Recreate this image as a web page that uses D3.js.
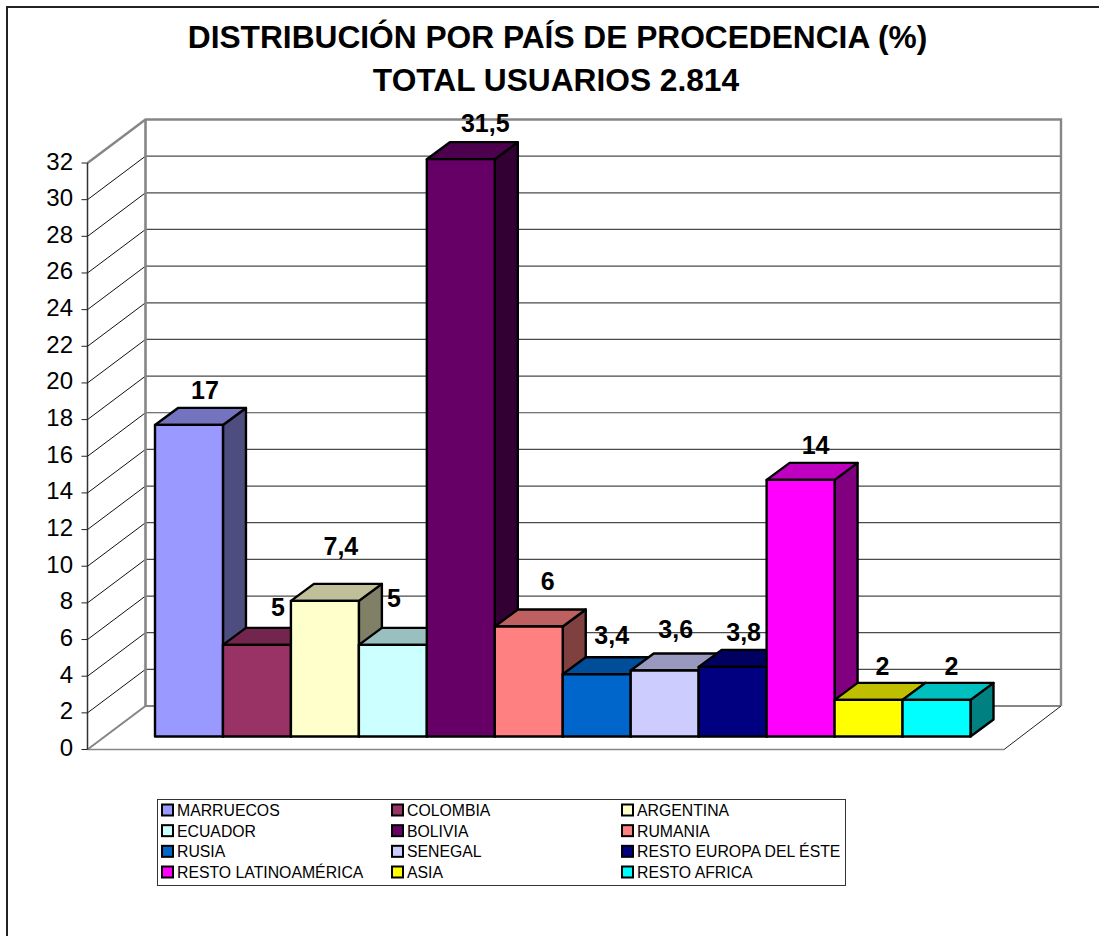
<!DOCTYPE html>
<html><head><meta charset="utf-8">
<script src="https://cdn.jsdelivr.net/npm/d3@7/dist/d3.min.js"></script>
<style>html,body{margin:0;padding:0;background:#fff}svg{display:block}text{font-family:"Liberation Sans",Arial,sans-serif}</style>
</head><body><svg id="c" width="1099" height="936"></svg>
<script>
const categories=["MARRUECOS","COLOMBIA","ARGENTINA","ECUADOR","BOLIVIA","RUMANIA","RUSIA","SENEGAL","RESTO EUROPA DEL ÉSTE","RESTO LATINOAMÉRICA","ASIA","RESTO AFRICA"];
const values=[17,5,7.4,5,31.5,6,3.4,3.6,3.8,14,2,2];
const valueLabels=["17","5","7,4","5","31,5","6","3,4","3,6","3,8","14","2","2"];
const colors=["#9999FF","#993366","#FFFFCC","#CCFFFF","#660066","#FF8080","#0066CC","#CCCCFF","#000080","#FF00FF","#FFFF00","#00FFFF"];
const ticks=d3.range(0,33,2);
const titleLines=["DISTRIBUCIÓN POR PAÍS DE PROCEDENCIA (%)","TOTAL USUARIOS 2.814"];
const labelNudgeX=[16,21,16,1,24.5,19,15,11,11,15,14,15];
const labelNudgeY=[-35,-38,-55,-47,-36,-46,-39,-42,-35,-35,-34,-34];

const svg=d3.select("#c");
svg.append("path").attr("d","M7,936V7H1099").attr("fill","none").attr("stroke","#222").attr("stroke-width",2);
svg.selectAll("text.t").data(titleLines).join("text").attr("class","t")
 .attr("x",(d,i)=>i?556:557.5).attr("y",(d,i)=>48+i*43).attr("text-anchor","middle")
 .attr("font-size",31.7).attr("font-weight","bold").attr("fill","#000").text(d=>d);

const yFront=d3.scaleLinear().domain([0,32]).range([749.5,163]);
const yWall=d3.scaleLinear().domain([0,32]).range([706,119.5]);
const yBar=d3.scaleLinear().domain([0,32]).range([736.5,150]);
const x=d3.scaleBand().domain(categories).range([155,970.5]);
const xF=87.5,xW=145.5,xR=1061,xFR=1004;
const depthX=23,depthY=17;

// floor
svg.append("path").attr("d",`M${xF},${yFront(0)}L${xW},${yWall(0)}H${xR}`).attr("fill","none").attr("stroke","#868686").attr("stroke-width",2);
svg.append("path").attr("d",`M${xF},${yFront(0)}H${xFR}`).attr("fill","none").attr("stroke","#868686").attr("stroke-width",1.6);
svg.append("path").attr("d",`M${xFR},${yFront(0)}L${xR},${yWall(0)}`).attr("fill","none").attr("stroke","#222").attr("stroke-width",1);
// gridlines on side and back walls
const inner=ticks.filter(t=>t>0&&t<32);
svg.selectAll("line.s").data(inner).join("line").attr("class","s")
 .attr("x1",xF).attr("x2",xW).attr("y1",yFront).attr("y2",yWall).attr("stroke","#111").attr("stroke-width",1);
svg.selectAll("line.b").data(inner).join("line").attr("class","b")
 .attr("x1",xW).attr("x2",xR).attr("y1",yWall).attr("y2",yWall).attr("stroke","#4a4a4a").attr("stroke-width",1.2);
// wall frame
svg.append("path").attr("d",`M${xF},${yFront(32)}L${xW},${yWall(32)}H${xR}V${yWall(0)}`).attr("fill","none").attr("stroke","#868686").attr("stroke-width",2.4);
svg.append("line").attr("x1",xW).attr("x2",xW).attr("y1",yWall(32)).attr("y2",yWall(0)).attr("stroke","#868686").attr("stroke-width",2.6);
// front axis
svg.append("line").attr("x1",xF).attr("x2",xF).attr("y1",yFront(32)).attr("y2",yFront(0)).attr("stroke","#333").attr("stroke-width",1.5);
svg.selectAll("line.k").data(ticks).join("line").attr("class","k")
 .attr("x1",xF-6).attr("x2",xF).attr("y1",yFront).attr("y2",yFront).attr("stroke","#222").attr("stroke-width",1);
svg.selectAll("text.y").data(ticks).join("text").attr("class","y")
 .attr("x",xF-14.5).attr("y",d=>yFront(d)+6.5).attr("text-anchor","end").attr("font-size",24).attr("fill","#000").text(d=>d);

// bars
const shade=(c,k)=>{const r=d3.rgb(c);return d3.rgb(r.r*k,r.g*k,r.b*k).formatHex();};
const bars=svg.selectAll("g.bar").data(categories).join("g").attr("class","bar");
const w=x.bandwidth();
bars.each(function(d,i){
  const g=d3.select(this),x0=x(d),y0=yBar(0),y1=yBar(values[i]),c=colors[i];
  const st={stroke:"#000","stroke-width":2.4,"stroke-linejoin":"round"};
  const add=(p,f)=>{const e=g.append("path").attr("d",p).attr("fill",f);Object.entries(st).forEach(([k,v])=>e.attr(k,v));};
  add(`M${x0+w},${y0}L${x0+w+depthX},${y0-depthY}V${y1-depthY}L${x0+w},${y1}Z`,shade(c,.5));
  add(`M${x0},${y1}L${x0+depthX},${y1-depthY}H${x0+w+depthX}L${x0+w},${y1}Z`,shade(c,.75));
  add(`M${x0},${y0}V${y1}H${x0+w}V${y0}Z`,c);
});
// value labels
svg.selectAll("text.v").data(categories).join("text").attr("class","v")
 .attr("x",(d,i)=>x(d)+w/2+labelNudgeX[i]).attr("y",(d,i)=>yBar(values[i])+labelNudgeY[i]+9)
 .attr("text-anchor","middle").attr("font-size",25).attr("font-weight","bold").attr("fill","#000").text((d,i)=>valueLabels[i]);

// legend
svg.append("rect").attr("x",157.5).attr("y",799.5).attr("width",688).attr("height",86).attr("fill","#fff").attr("stroke","#333").attr("stroke-width",1);
const lx=d3.scalePoint().domain([0,1,2]).range([161,621]);
const ly=d3.scalePoint().domain([0,1,2,3]).range([810,872]);
const items=svg.selectAll("g.l").data(categories).join("g").attr("class","l")
 .attr("transform",(d,i)=>`translate(${lx(i%3)},${ly(Math.floor(i/3))})`);
items.append("rect").attr("x",1).attr("y",-5.5).attr("width",11).attr("height",11).attr("fill",(d,i)=>colors[i]).attr("stroke","#000").attr("stroke-width",2);
items.append("text").attr("x",16).attr("y",6).attr("font-size",15.8).attr("fill","#000").text(d=>d);
</script></body></html>
